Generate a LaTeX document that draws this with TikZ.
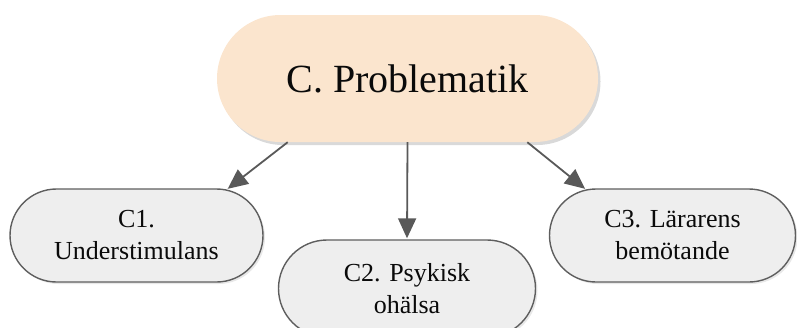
\documentclass[tikz,border=0pt]{standalone}
\usepackage{fontspec}
\setmainfont{Liberation Serif}
\usetikzlibrary{arrows.meta,shapes.misc,shadows}
\definecolor{peach}{HTML}{FBE5CE}
\definecolor{lightbox}{HTML}{EEEEEE}
\definecolor{edgegray}{HTML}{5E5E5E}
\definecolor{arrowgray}{HTML}{595959}
\definecolor{txt}{HTML}{0A0A0A}
\tikzset{
  mainbox/.style={rounded rectangle, fill=peach, draw=none, inner sep=0pt,
    minimum width=381pt, minimum height=127pt, text=txt,
    font=\fontsize{40}{48}\selectfont,
    drop shadow={opacity=0.3, shadow xshift=2.5pt, shadow yshift=-3pt}},
  subbox/.style={rounded rectangle, fill=lightbox, draw=edgegray, line width=1.4pt,
    inner sep=0pt, minimum height=93pt, text=txt, align=center,
    font=\fontsize{26}{32}\selectfont,
    drop shadow={opacity=0.18, shadow xshift=2pt, shadow yshift=-2pt}},
  conn/.style={draw=arrowgray, line width=1.8pt,
    -{Triangle[length=20pt,width=18pt]}, shorten >=1pt}
}
\begin{document}
\begin{tikzpicture}[x=1pt,y=-1pt]
\useasboundingbox (0,0) rectangle (797,327);
\node[mainbox] (main) at (407.5,78.5) {C. Problematik};
\node[subbox, minimum width=253pt] (c1) at (136.5,235.5) {C1.\\Understimulans};
\node[subbox, minimum width=257pt, minimum height=97pt] (c2) at (407,288.5) {C2. Psykisk\\ohälsa};
\node[subbox, minimum width=246pt] (c3) at (672.5,235.5) {C3. Lärarens\\bemötande};
\draw[conn] (main.208) -- (c1.27.2);
\draw[conn] (main.south) -- (c2.north);
\draw[conn] (main.332.5) -- (c3.152.8);
\end{tikzpicture}
\end{document}
